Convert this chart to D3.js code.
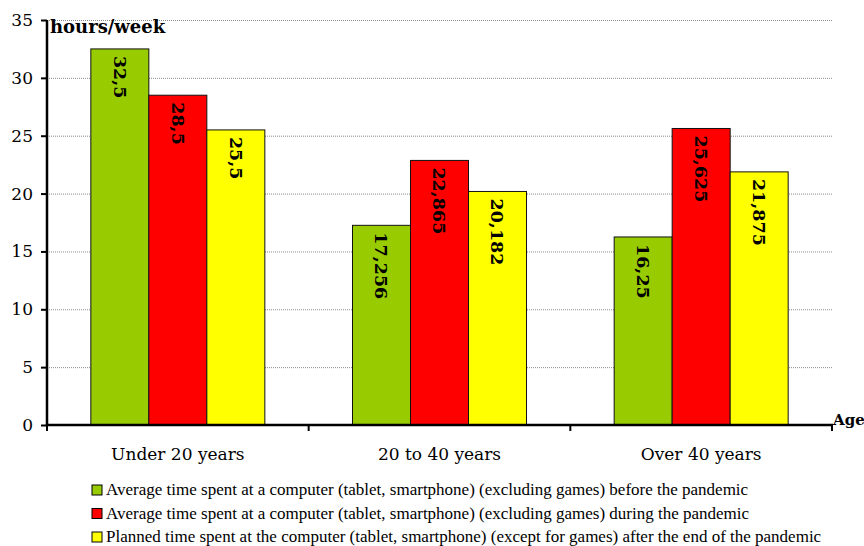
<!DOCTYPE html>
<html>
<head>
<meta charset="utf-8">
<script src="https://cdn.jsdelivr.net/npm/d3@7"></script>
<style>
  html, body { margin: 0; padding: 0; background: #fff; }
  svg { display: block; }
</style>
</head>
<body>
<svg id="chart" width="864" height="546"></svg>
<script>
// Age groups on the x axis
const categories = ["Under 20 years", "20 to 40 years", "Over 40 years"];

// Hours per week for each series, one value per age group
const beforePandemic = [32.5, 17.256, 16.25];
const duringPandemic = [28.5, 22.865, 25.625];
const afterPandemic  = [25.5, 20.182, 21.875];

// Value labels as printed on the bars (decimal comma)
const beforeLabels = ["32,5", "17,256", "16,25"];
const duringLabels = ["28,5", "22,865", "25,625"];
const afterLabels  = ["25,5", "20,182", "21,875"];

const seriesNames = [
  "Average time spent at a computer (tablet, smartphone) (excluding games) before the pandemic",
  "Average time spent at a computer (tablet, smartphone) (excluding games) during the pandemic",
  "Planned time spent at the computer (tablet, smartphone) (except for games) after the end of the pandemic"
];
const seriesColors = ["#99cc00", "#ff0000", "#ffff00"];

const yTicks = [0, 5, 10, 15, 20, 25, 30, 35];

const series = [
  { name: seriesNames[0], values: beforePandemic, labels: beforeLabels, color: seriesColors[0] },
  { name: seriesNames[1], values: duringPandemic, labels: duringLabels, color: seriesColors[1] },
  { name: seriesNames[2], values: afterPandemic,  labels: afterLabels,  color: seriesColors[2] }
];

const svg = d3.select("#chart");
const plot = { left: 47, right: 832, top: 20, bottom: 425 };
const axisFont = "'DejaVu Serif', 'Liberation Serif', serif";

const x = d3.scaleBand().domain(categories).range([plot.left, plot.right]).paddingInner(0).paddingOuter(0);
const barW = 58;
const xs = d3.scaleBand().domain(d3.range(series.length)).range([0, barW * 3]);
const y = d3.scaleLinear().domain([0, 35]).range([plot.bottom, plot.top]);

// Dotted horizontal gridlines
svg.append("g")
  .selectAll("line")
  .data(yTicks.filter(t => t > 0))
  .join("line")
  .attr("x1", plot.left).attr("x2", plot.right)
  .attr("y1", d => y(d) + 0.5).attr("y2", d => y(d) + 0.5)
  .attr("stroke", "#8a8a8a")
  .attr("stroke-width", 1)
  .attr("stroke-dasharray", "1,1");

// Bars
const groups = svg.append("g")
  .selectAll("g")
  .data(categories.map((c, i) => ({ c, i })))
  .join("g")
  .attr("transform", d => `translate(${x(d.c) + x.bandwidth() / 2 - barW * 1.5},0)`);

groups.selectAll("rect")
  .data(d => series.map((s, k) => ({ k, v: s.values[d.i], label: s.labels[d.i], color: s.color })))
  .join("rect")
  .attr("x", d => xs(d.k))
  .attr("y", d => y(d.v))
  .attr("width", xs.bandwidth())
  .attr("height", d => y(0) - y(d.v))
  .attr("fill", d => d.color)
  .attr("stroke", "#111")
  .attr("stroke-width", 1);

// Rotated value labels at the top of each bar
groups.selectAll("text")
  .data(d => series.map((s, k) => ({ k, v: s.values[d.i], label: s.labels[d.i] })))
  .join("text")
  .attr("transform", d => `translate(${xs(d.k) + xs.bandwidth() / 2},${y(d.v) + 7}) rotate(90)`)
  .attr("dy", "0.35em")
  .attr("text-anchor", "start")
  .attr("font-family", axisFont)
  .attr("font-weight", "bold")
  .attr("font-size", 17.5)
  .attr("fill", "#000")
  .text(d => d.label);

// Y axis
const yAxis = d3.axisLeft(y).tickValues(yTicks).tickSize(6).tickPadding(8).tickFormat(d3.format("d"));
const gy = svg.append("g").attr("transform", `translate(${plot.left},0)`).call(yAxis);
gy.select(".domain").attr("stroke", "#000").attr("stroke-width", 2.5).attr("d", `M0,${plot.top}V${plot.bottom}`);
gy.selectAll(".tick line").attr("stroke", "#000").attr("stroke-width", 2);
gy.selectAll(".tick text").attr("font-family", axisFont).attr("font-size", 17).attr("fill", "#000");

// X axis with boundary ticks between age groups
const xAxisG = svg.append("g").attr("transform", `translate(0,${plot.bottom})`);
xAxisG.append("line")
  .attr("x1", plot.left).attr("x2", plot.right + 1)
  .attr("y1", 0).attr("y2", 0)
  .attr("stroke", "#000").attr("stroke-width", 2.5);
const bounds = categories.map(c => x(c) + x.bandwidth()).concat([x(categories[0])]);
xAxisG.selectAll("line.tick")
  .data(bounds)
  .join("line")
  .attr("class", "tick")
  .attr("x1", d => d).attr("x2", d => d)
  .attr("y1", 0).attr("y2", 6)
  .attr("stroke", "#000").attr("stroke-width", 2);
xAxisG.selectAll("text")
  .data(categories)
  .join("text")
  .attr("x", d => x(d) + x.bandwidth() / 2)
  .attr("y", 35)
  .attr("text-anchor", "middle")
  .attr("font-family", axisFont)
  .attr("font-size", 17)
  .attr("fill", "#000")
  .text(d => d);

// Axis titles
svg.append("text")
  .attr("x", 50).attr("y", 33)
  .attr("font-family", axisFont).attr("font-weight", "bold").attr("font-size", 18)
  .text("hours/week");
svg.append("text")
  .attr("x", 833).attr("y", 425)
  .attr("font-family", axisFont).attr("font-weight", "bold").attr("font-size", 15)
  .text("Age");

// Legend
const legend = svg.append("g")
  .selectAll("g")
  .data(series)
  .join("g")
  .attr("transform", (d, i) => `translate(92,${485 + i * 23.5})`);
legend.append("rect")
  .attr("width", 10).attr("height", 10)
  .attr("fill", d => d.color)
  .attr("stroke", "#000").attr("stroke-width", 1);
legend.append("text")
  .attr("x", 14).attr("y", 10)
  .attr("font-family", "'Liberation Serif', 'Times New Roman', serif")
  .attr("font-size", 17)
  .attr("fill", "#000")
  .text(d => d.name);
</script>
</body>
</html>
